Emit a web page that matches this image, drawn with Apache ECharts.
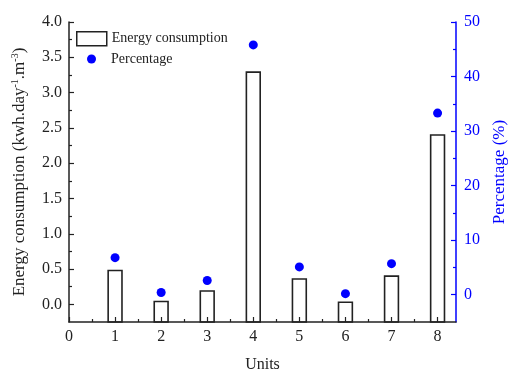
<!DOCTYPE html>
<html><head><meta charset="utf-8">
<script src="https://cdn.jsdelivr.net/npm/echarts@6/dist/echarts.min.js"></script>
<style>html,body{margin:0;padding:0;background:#fff}#c{width:509px;height:372px}</style>
</head><body><div id="c"></div>
<script>
const units = [1, 2, 3, 4, 5, 6, 7, 8];
const energy = [0.48, 0.04, 0.19, 3.29, 0.36, 0.03, 0.40, 2.40];
const percentage = [6.8, 0.4, 2.6, 45.8, 5.1, 0.2, 5.7, 33.3];
const xTicks = [0, 1, 2, 3, 4, 5, 6, 7, 8];
const xMinorTicks = [0.5, 1.5, 2.5, 3.5, 4.5, 5.5, 6.5, 7.5];
const leftTicks = [0, 0.5, 1, 1.5, 2, 2.5, 3, 3.5, 4];
const leftMinorTicks = [0.25, 0.75, 1.25, 1.75, 2.25, 2.75, 3.25, 3.75];
const rightTicks = [0, 10, 20, 30, 40, 50];
const rightMinorTicks = [5, 15, 25, 35, 45];

const X_MIN = 0, X_MAX = 8.4;
const L_MIN = -0.25, L_MAX = 4;
const R_MIN = -5, R_MAX = 50;
const BAR_W = 0.3;
const FONT = 'Liberation Serif';
const INK = '#222';
const BLUE = '#0000ff';

const chart = echarts.init(document.getElementById('c'));

function baseAxis(extra) {
  return Object.assign({
    type: 'value',
    splitLine: { show: false },
    z: 5
  }, extra);
}

chart.setOption({
  animation: false,
  backgroundColor: '#fff',
  grid: { left: 69, right: 53, top: 22, bottom: 50, outerBoundsMode: 'none' },
  legend: [
    {
      data: [{ name: 'Energy consumption', icon: 'rect',
        itemStyle: { color: '#fff', borderColor: INK, borderWidth: 1.5 } }],
      left: 76, top: 31, itemWidth: 30, itemHeight: 14, padding: 0,
      textStyle: { fontFamily: FONT, fontSize: 14, color: INK }
    },
    {
      data: [{ name: 'Percentage', icon: 'circle', itemStyle: { color: BLUE, opacity: 1 } }],
      left: 87, top: 52, itemWidth: 9, itemHeight: 9, padding: 0,
      textStyle: { fontFamily: FONT, fontSize: 14, color: INK, padding: [0, 0, 0, 10] }
    }
  ],
  xAxis: [
    baseAxis({
      position: 'bottom', min: X_MIN, max: X_MAX,
      name: 'Units', nameLocation: 'middle', nameGap: 35,
      nameTextStyle: { fontFamily: FONT, fontSize: 16, color: INK },
      axisLine: { onZero: false, lineStyle: { color: INK, width: 1.5 } },
      axisTick: { inside: true, length: 5, customValues: xTicks, lineStyle: { color: INK, width: 1.2 } },
      axisLabel: { customValues: xTicks, fontFamily: FONT, fontSize: 16, color: INK, margin: 7 }
    }),
    baseAxis({
      position: 'bottom', min: X_MIN, max: X_MAX,
      axisLine: { show: false, onZero: false },
      axisTick: { inside: true, length: 3, customValues: xMinorTicks, lineStyle: { color: INK, width: 1.2 } },
      axisLabel: { show: false }
    })
  ],
  yAxis: [
    baseAxis({
      position: 'left', min: L_MIN, max: L_MAX,
      name: '{a|Energy consumption (kwh.day}{s|-1}{a|.m}{s|-3}{a|)}',
      nameLocation: 'middle', nameGap: 39,
      nameTextStyle: { fontFamily: FONT, fontSize: 17, color: INK,
        rich: {
          a: { fontFamily: FONT, fontSize: 17, color: INK },
          s: { fontFamily: FONT, fontSize: 10, color: INK, padding: [0, 0, 10, 0] }
        } },
      axisLine: { onZero: false, lineStyle: { color: INK, width: 1.5 } },
      axisTick: { inside: true, length: 5, customValues: leftTicks, lineStyle: { color: INK, width: 1.2 } },
      axisLabel: { customValues: leftTicks, fontFamily: FONT, fontSize: 16, color: INK, margin: 7,
        formatter: v => v.toFixed(1) }
    }),
    baseAxis({
      position: 'right', min: R_MIN, max: R_MAX,
      name: 'Percentage (%)', nameLocation: 'middle', nameGap: 33,
      nameTextStyle: { fontFamily: FONT, fontSize: 17, color: BLUE },
      axisLine: { onZero: false, lineStyle: { color: BLUE, width: 1.5 } },
      axisTick: { inside: true, length: 5, customValues: rightTicks, lineStyle: { color: BLUE, width: 1.2 } },
      axisLabel: { customValues: rightTicks, fontFamily: FONT, fontSize: 16, color: BLUE, margin: 8 }
    }),
    baseAxis({
      position: 'left', min: L_MIN, max: L_MAX,
      axisLine: { show: false, onZero: false },
      axisTick: { inside: true, length: 3, customValues: leftMinorTicks, lineStyle: { color: INK, width: 1.2 } },
      axisLabel: { show: false }
    }),
    baseAxis({
      position: 'right', min: R_MIN, max: R_MAX,
      axisLine: { show: false, onZero: false },
      axisTick: { inside: true, length: 3, customValues: rightMinorTicks, lineStyle: { color: BLUE, width: 1.2 } },
      axisLabel: { show: false }
    })
  ],
  series: [
    {
      name: 'Energy consumption',
      type: 'custom',
      xAxisIndex: 0, yAxisIndex: 0,
      z: 2,
      itemStyle: { color: '#fff', borderColor: INK, borderWidth: 1.5 },
      data: units.map((u, i) => [u, energy[i]]),
      renderItem: function (params, api) {
        const top = api.coord([api.value(0), api.value(1)]);
        const base = api.coord([api.value(0), L_MIN]);
        const w = api.size([BAR_W, 0])[0];
        return {
          type: 'rect',
          shape: { x: top[0] - w / 2, y: top[1], width: w, height: base[1] - top[1] },
          style: { fill: 'rgba(255,255,255,0)', stroke: INK, lineWidth: 1.6 }
        };
      }
    },
    {
      name: 'Percentage',
      type: 'scatter',
      xAxisIndex: 0, yAxisIndex: 1,
      symbol: 'circle', symbolSize: 9,
      itemStyle: { color: BLUE, opacity: 1 },
      data: units.map((u, i) => [u, percentage[i]])
    }
  ]
});
</script>
</body></html>
